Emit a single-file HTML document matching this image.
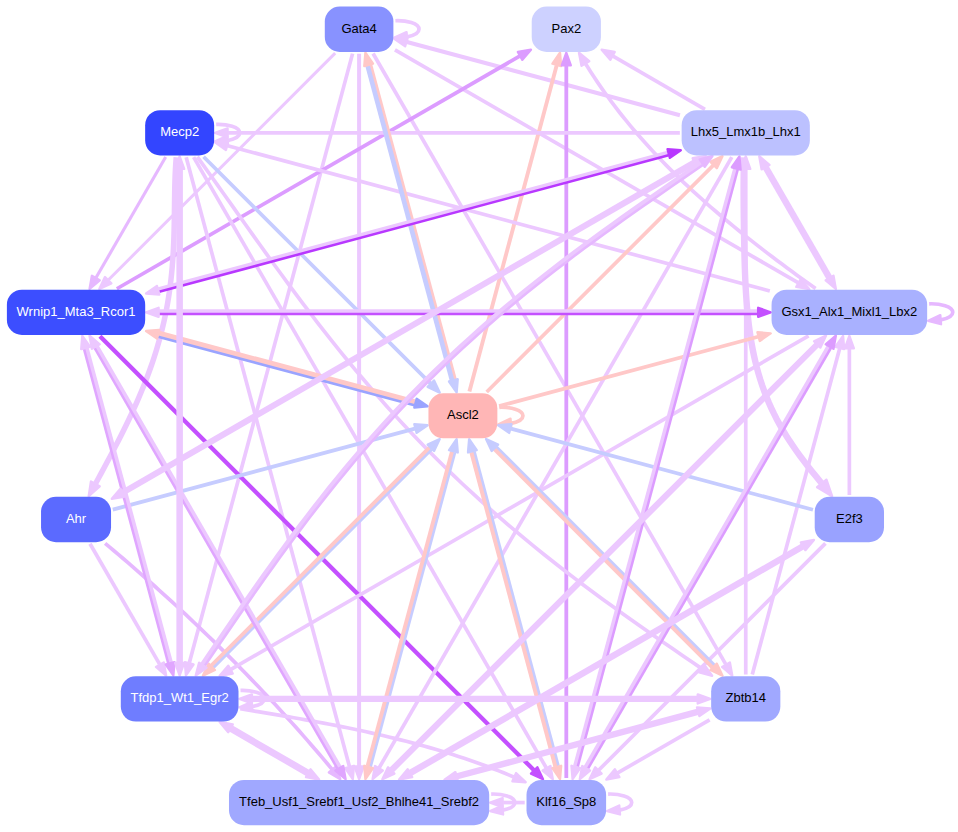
<!DOCTYPE html>
<html lang="en">
<head>
<meta charset="utf-8">
<title>Regulatory network</title>
<style>
html,body{margin:0;padding:0;background:#ffffff;}
body{width:958px;height:832px;overflow:hidden;}
svg{display:block;}
</style>
</head>
<body>
<svg width="958" height="832" viewBox="0 0 958 832" font-family="'Liberation Sans', Arial, Helvetica, sans-serif" font-size="13px">
<rect width="958" height="832" fill="#ffffff"/>
<g stroke-linecap="butt">
<g>
<path d="M395.39,20.74 C406.39,20.34 418.99,23.24 418.99,29.24 C418.99,32.94 414.39,35.44 406.99,36.84" fill="none" stroke="#ecc8ff" stroke-width="3.70"/>
<polygon points="406.53,32.15 394.39,37.67 407.27,41.12" fill="#ecc8ff" stroke="#ecc8ff" stroke-width="2.4" stroke-linejoin="round"/>
</g>
<g>
<path d="M216.15,124.35 C227.15,123.95 239.75,126.85 239.75,132.85 C239.75,136.55 235.15,139.05 227.75,140.45" fill="none" stroke="#ecc8ff" stroke-width="3.70"/>
<polygon points="227.28,135.76 215.14,141.27 228.02,144.73" fill="#ecc8ff" stroke="#ecc8ff" stroke-width="2.4" stroke-linejoin="round"/>
</g>
<g>
<path d="M929.16,303.79 C940.16,303.39 952.76,306.29 952.76,312.29 C952.76,315.99 948.16,318.49 940.76,319.89" fill="none" stroke="#e6b8ff" stroke-width="3.70"/>
<polygon points="940.30,315.21 928.16,320.72 941.03,324.18" fill="#e6b8ff" stroke="#e6b8ff" stroke-width="2.4" stroke-linejoin="round"/>
</g>
<g>
<path d="M499.35,407.30 C510.35,406.90 522.95,409.80 522.95,415.80 C522.95,419.50 518.35,422.00 510.95,423.40" fill="none" stroke="#ffc8c8" stroke-width="3.70"/>
<polygon points="510.49,418.71 498.35,424.23 511.22,427.68" fill="#ffc8c8" stroke="#ffc8c8" stroke-width="2.4" stroke-linejoin="round"/>
</g>
<g>
<path d="M240.50,690.45 C251.50,690.05 264.10,692.95 264.10,698.95 C264.10,702.65 259.50,705.15 252.10,706.55" fill="none" stroke="#ecc8ff" stroke-width="3.70"/>
<polygon points="251.63,701.87 239.49,707.38 252.37,710.84" fill="#ecc8ff" stroke="#ecc8ff" stroke-width="2.4" stroke-linejoin="round"/>
</g>
<g>
<path d="M491.19,794.06 C502.19,793.66 514.79,796.56 514.79,802.56 C514.79,806.26 510.19,808.76 502.79,810.16" fill="none" stroke="#ecc8ff" stroke-width="3.70"/>
<polygon points="502.33,805.47 490.19,810.99 503.07,814.44" fill="#ecc8ff" stroke="#ecc8ff" stroke-width="2.4" stroke-linejoin="round"/>
</g>
<g>
<path d="M608.11,794.06 C619.11,793.66 631.71,796.56 631.71,802.56 C631.71,806.26 627.11,808.76 619.71,810.16" fill="none" stroke="#ecc8ff" stroke-width="3.70"/>
<polygon points="619.24,805.47 607.10,810.99 619.98,814.44" fill="#ecc8ff" stroke="#ecc8ff" stroke-width="2.4" stroke-linejoin="round"/>
</g>
<g>
<path d="M394.95,49.94 L798.00,282.64" fill="none" stroke="#ecc8ff" stroke-width="3.70"/>
<polygon points="796.27,286.84 809.35,289.19 800.77,279.05" fill="#ecc8ff" stroke="#ecc8ff" stroke-width="2.4" stroke-linejoin="round"/>
</g>
<g>
<path d="M373.07,53.45 L725.68,664.18" fill="none" stroke="#ecc8ff" stroke-width="3.70"/>
<polygon points="722.08,666.95 732.23,675.53 729.87,662.45" fill="#ecc8ff" stroke="#ecc8ff" stroke-width="2.4" stroke-linejoin="round"/>
</g>
<g>
<path d="M359.09,53.69 L359.09,765.91" fill="none" stroke="#ecc8ff" stroke-width="4.00"/>
<polygon points="354.59,766.51 359.09,779.01 363.59,766.51" fill="#ecc8ff" stroke="#ecc8ff" stroke-width="2.4" stroke-linejoin="round"/>
</g>
<g>
<path d="M352.56,53.63 L189.34,662.78" fill="none" stroke="#ecc8ff" stroke-width="3.70"/>
<polygon points="184.84,662.20 185.95,675.44 193.53,664.53" fill="#ecc8ff" stroke="#ecc8ff" stroke-width="2.4" stroke-linejoin="round"/>
</g>
<g>
<path d="M335.17,53.16 L108.59,279.75" fill="none" stroke="#ecc8ff" stroke-width="3.00"/>
<polygon points="104.98,276.99 99.33,289.01 111.35,283.35" fill="#ecc8ff" stroke="#ecc8ff" stroke-width="2.4" stroke-linejoin="round"/>
</g>
<g>
<path d="M679.92,115.20 L406.92,42.05" fill="none" stroke="#ecc8ff" stroke-width="4.10"/>
<polygon points="407.50,37.55 394.26,38.66 405.17,46.25" fill="#ecc8ff" stroke="#ecc8ff" stroke-width="2.4" stroke-linejoin="round"/>
</g>
<g>
<path d="M116.83,288.74 L519.58,56.22" fill="none" stroke="#dc9cff" stroke-width="3.70"/>
<polygon points="522.35,59.81 530.93,49.67 517.85,52.02" fill="#dc9cff" stroke="#dc9cff" stroke-width="2.4" stroke-linejoin="round"/>
</g>
<g>
<path d="M469.40,391.51 L556.63,65.41" fill="none" stroke="#ffc8c8" stroke-width="3.90"/>
<polygon points="561.13,66.00 560.01,52.76 552.44,63.67" fill="#ffc8c8" stroke="#ffc8c8" stroke-width="2.4" stroke-linejoin="round"/>
</g>
<g>
<path d="M566.31,778.11 L566.31,65.89" fill="none" stroke="#dc9cff" stroke-width="3.80"/>
<polygon points="570.81,65.29 566.31,52.79 561.81,65.29" fill="#dc9cff" stroke="#dc9cff" stroke-width="2.4" stroke-linejoin="round"/>
</g>
<g>
<path d="M815.60,288.60 L811.40,285.61 L806.47,282.06 L801.55,278.50 L796.63,274.93 L791.72,271.34 L786.83,267.73 L781.94,264.10 L777.07,260.45 L772.21,256.78 L767.37,253.10 L762.54,249.39 L757.73,245.66 L752.93,241.91 L748.16,238.13 L743.40,234.33 L738.67,230.51 L733.95,226.66 L729.26,222.79 L724.60,218.89 L719.95,214.97 L715.34,211.02 L710.75,207.04 L706.19,203.03 L701.66,198.99 L697.15,194.93 L692.68,190.83 L688.24,186.70 L683.84,182.55 L679.46,178.35 L675.12,174.13 L670.82,169.88 L666.56,165.59 L662.33,161.26 L658.14,156.90 L654.00,152.51 L649.89,148.07 L645.82,143.61 L641.80,139.10 L637.83,134.56 L633.89,129.97 L630.01,125.35 L626.17,120.69 L622.38,115.99 L618.64,111.24 L614.95,106.46 L611.31,101.63 L607.72,96.76 L604.19,91.84 L600.71,86.88 L597.28,81.88 L593.91,76.83 L590.60,71.74 L587.35,66.59 L585.69,63.92" fill="none" stroke="#ecc8ff" stroke-width="3.70"/>
<polygon points="589.26,61.10 578.99,52.66 581.53,65.70" fill="#ecc8ff" stroke="#ecc8ff" stroke-width="2.4" stroke-linejoin="round"/>
</g>
<g>
<path d="M704.97,109.30 L613.03,56.22" fill="none" stroke="#ecc8ff" stroke-width="3.70"/>
<polygon points="614.76,52.02 601.68,49.67 610.26,59.81" fill="#ecc8ff" stroke="#ecc8ff" stroke-width="2.4" stroke-linejoin="round"/>
</g>
<g>
<path d="M203.59,156.77 L430.42,383.36" fill="none" stroke="#c6ccff" stroke-width="3.70"/>
<polygon points="427.67,386.96 439.69,392.61 434.03,380.60" fill="#c6ccff" stroke="#c6ccff" stroke-width="2.4" stroke-linejoin="round"/>
</g>
<g>
<path d="M193.62,157.05 L546.23,767.79" fill="none" stroke="#ecc8ff" stroke-width="3.70"/>
<polygon points="542.63,770.56 552.78,779.13 550.43,766.06" fill="#ecc8ff" stroke="#ecc8ff" stroke-width="2.4" stroke-linejoin="round"/>
</g>
<g>
<path d="M197.33,156.95 L203.43,165.40 L210.49,175.24 L217.54,185.11 L224.56,195.00 L231.59,204.90 L238.61,214.81 L245.63,224.71 L252.67,234.61 L259.73,244.50 L266.81,254.37 L273.92,264.21 L281.07,274.03 L288.25,283.82 L295.48,293.57 L302.75,303.28 L310.08,312.95 L317.46,322.57 L324.90,332.13 L332.40,341.64 L339.97,351.10 L347.61,360.48 L355.32,369.81 L363.11,379.06 L370.97,388.25 L378.91,397.37 L386.92,406.41 L395.02,415.37 L403.20,424.26 L411.47,433.07 L419.82,441.80 L428.25,450.44 L436.77,459.01 L445.37,467.50 L454.05,475.90 L462.82,484.22 L471.68,492.46 L480.61,500.61 L489.63,508.68 L498.72,516.68 L507.89,524.59 L517.14,532.42 L526.46,540.18 L535.86,547.86 L545.32,555.47 L554.84,563.01 L564.43,570.47 L574.07,577.87 L583.77,585.20 L593.52,592.47 L603.32,599.69 L613.16,606.84 L623.04,613.95 L632.95,621.01 L642.89,628.02 L652.85,634.99 L662.83,641.92 L672.81,648.83 L682.80,655.70 L692.79,662.56 L701.32,668.39" fill="none" stroke="#ecc8ff" stroke-width="3.70"/>
<polygon points="699.27,672.45 712.13,675.80 704.36,665.02" fill="#ecc8ff" stroke="#ecc8ff" stroke-width="2.4" stroke-linejoin="round"/>
</g>
<g>
<path d="M186.18,157.23 L349.40,766.39" fill="none" stroke="#ecc8ff" stroke-width="3.70"/>
<polygon points="345.21,768.13 352.79,779.04 353.90,765.80" fill="#ecc8ff" stroke="#ecc8ff" stroke-width="2.4" stroke-linejoin="round"/>
</g>
<g>
<path d="M165.67,157.05 L96.12,277.52" fill="none" stroke="#e6b8ff" stroke-width="3.10"/>
<polygon points="91.92,275.79 89.57,288.87 99.71,280.29" fill="#e6b8ff" stroke="#e6b8ff" stroke-width="2.4" stroke-linejoin="round"/>
</g>
<g>
<path d="M176.25,157.29 L175.80,162.99 L175.43,169.07 L175.15,175.17 L174.94,181.29 L174.78,187.41 L174.66,193.54 L174.57,199.68 L174.50,205.82 L174.42,211.97 L174.34,218.11 L174.23,224.26 L174.10,230.40 L173.92,236.54 L173.70,242.68 L173.42,248.81 L173.08,254.93 L172.68,261.03 L172.20,267.13 L171.64,273.22 L171.00,279.29 L170.28,285.34 L169.46,291.38 L168.56,297.41 L167.57,303.41 L166.48,309.40 L165.29,315.36 L164.02,321.30 L162.64,327.23 L161.18,333.13 L159.62,339.00 L157.96,344.85 L156.22,350.68 L154.39,356.49 L152.47,362.27 L150.47,368.02 L148.39,373.75 L146.23,379.46 L144.00,385.14 L141.69,390.80 L139.32,396.43 L136.88,402.04 L134.39,407.62 L131.84,413.18 L129.23,418.72 L126.58,424.24 L123.89,429.73 L121.15,435.21 L118.38,440.67 L115.58,446.10 L112.75,451.53 L109.90,456.93 L107.03,462.33 L104.14,467.71 L101.24,473.08 L98.33,478.44 L95.62,483.44" fill="none" stroke="#ecc8ff" stroke-width="5.50"/>
<polygon points="90.94,481.57 88.73,496.07 99.72,486.36" fill="#ecc8ff" stroke="#ecc8ff" stroke-width="2.4" stroke-linejoin="round"/>
</g>
<g>
<path d="M679.85,132.85 L228.15,132.85" fill="none" stroke="#ecc8ff" stroke-width="3.70"/>
<polygon points="227.55,128.35 215.05,132.85 227.55,137.35" fill="#ecc8ff" stroke="#ecc8ff" stroke-width="2.4" stroke-linejoin="round"/>
</g>
<g>
<path d="M769.82,290.98 L227.67,145.71" fill="none" stroke="#ecc8ff" stroke-width="3.70"/>
<polygon points="228.25,141.21 215.01,142.32 225.92,149.90" fill="#ecc8ff" stroke="#ecc8ff" stroke-width="2.4" stroke-linejoin="round"/>
</g>
<g>
<path d="M99.96,336.22 L533.76,770.01" fill="none" stroke="#c450ff" stroke-width="4.30"/>
<polygon points="531.00,773.62 543.02,779.27 537.36,767.25" fill="#c450ff" stroke="#c450ff" stroke-width="2.4" stroke-linejoin="round"/>
</g>
<g>
<path d="M112.78,509.66 L414.93,428.66" fill="none" stroke="#c6ccff" stroke-width="3.80"/>
<polygon points="416.67,432.85 427.58,425.27 414.34,424.16" fill="#c6ccff" stroke="#c6ccff" stroke-width="2.4" stroke-linejoin="round"/>
</g>
<g>
<path d="M90.02,543.71 L159.57,664.18" fill="none" stroke="#ecc8ff" stroke-width="3.70"/>
<polygon points="155.97,666.95 166.12,675.53 163.77,662.45" fill="#ecc8ff" stroke="#ecc8ff" stroke-width="2.4" stroke-linejoin="round"/>
</g>
<g>
<path d="M105.12,543.31 L109.34,546.84 L113.94,550.71 L118.53,554.60 L123.10,558.51 L127.67,562.42 L132.22,566.36 L136.76,570.31 L141.29,574.27 L145.81,578.25 L150.31,582.24 L154.80,586.25 L159.28,590.27 L163.74,594.31 L168.20,598.36 L172.64,602.42 L177.06,606.50 L181.47,610.60 L185.87,614.71 L190.26,618.83 L194.63,622.97 L198.99,627.12 L203.34,631.29 L207.67,635.47 L211.99,639.67 L216.29,643.88 L220.58,648.11 L224.86,652.35 L229.12,656.60 L233.36,660.87 L237.60,665.15 L241.81,669.45 L246.01,673.76 L250.20,678.09 L254.37,682.43 L258.53,686.78 L262.67,691.15 L266.80,695.53 L270.91,699.93 L275.01,704.34 L279.09,708.76 L283.15,713.20 L287.20,717.65 L291.23,722.12 L295.25,726.60 L299.25,731.10 L303.23,735.61 L307.20,740.13 L311.15,744.67 L315.08,749.22 L319.00,753.79 L322.90,758.37 L326.78,762.96 L330.65,767.57 L331.95,769.12" fill="none" stroke="#e6b8ff" stroke-width="3.70"/>
<polygon points="328.86,772.45 340.30,779.22 335.80,766.72" fill="#e6b8ff" stroke="#e6b8ff" stroke-width="2.4" stroke-linejoin="round"/>
</g>
<g>
<path d="M240.27,708.78 L245.98,709.70 L251.95,710.67 L257.92,711.65 L263.90,712.64 L269.87,713.63 L275.84,714.63 L281.82,715.65 L287.79,716.67 L293.76,717.71 L299.74,718.76 L305.70,719.83 L311.67,720.91 L317.63,722.01 L323.59,723.13 L329.55,724.27 L335.50,725.43 L341.45,726.61 L347.39,727.81 L353.32,729.03 L359.25,730.29 L365.17,731.56 L371.08,732.87 L376.98,734.20 L382.88,735.56 L388.76,736.95 L394.64,738.38 L400.51,739.83 L406.36,741.32 L412.20,742.84 L418.03,744.40 L423.85,746.00 L429.65,747.63 L435.44,749.31 L441.22,751.02 L446.98,752.78 L452.73,754.57 L458.46,756.42 L464.18,758.30 L469.87,760.23 L475.55,762.21 L481.22,764.23 L486.86,766.31 L492.49,768.43 L498.09,770.61 L503.68,772.84 L509.24,775.12 L513.68,776.98" fill="none" stroke="#ecc8ff" stroke-width="3.70"/>
<polygon points="512.43,781.35 525.68,782.24 516.04,773.11" fill="#ecc8ff" stroke="#ecc8ff" stroke-width="2.4" stroke-linejoin="round"/>
</g>
<g>
<path d="M808.57,335.84 L231.00,669.30" fill="none" stroke="#ecc8ff" stroke-width="3.70"/>
<polygon points="228.23,665.71 219.66,675.85 232.73,673.50" fill="#ecc8ff" stroke="#ecc8ff" stroke-width="2.4" stroke-linejoin="round"/>
</g>
<g>
<path d="M731.78,157.05 L379.17,767.79" fill="none" stroke="#ecc8ff" stroke-width="3.70"/>
<polygon points="374.97,766.06 372.62,779.13 382.77,770.56" fill="#ecc8ff" stroke="#ecc8ff" stroke-width="2.4" stroke-linejoin="round"/>
</g>
<g>
<path d="M524.71,802.56 L503.19,802.56" fill="none" stroke="#ecc8ff" stroke-width="3.70"/>
<polygon points="502.59,798.06 490.09,802.56 502.59,807.06" fill="#ecc8ff" stroke="#ecc8ff" stroke-width="2.4" stroke-linejoin="round"/>
</g>
<g>
<path d="M825.44,543.43 L598.85,770.01" fill="none" stroke="#ecc8ff" stroke-width="3.70"/>
<polygon points="595.25,767.25 589.59,779.27 601.61,773.62" fill="#ecc8ff" stroke="#ecc8ff" stroke-width="2.4" stroke-linejoin="round"/>
</g>
<g>
<path d="M709.60,719.83 L617.66,772.91" fill="none" stroke="#ecc8ff" stroke-width="3.70"/>
<polygon points="614.89,769.31 606.32,779.46 619.39,777.11" fill="#ecc8ff" stroke="#ecc8ff" stroke-width="2.4" stroke-linejoin="round"/>
</g>
<g>
<path d="M745.75,674.50 L745.75,169.50" fill="none" stroke="#ecc8ff" stroke-width="3.70"/>
<polygon points="750.25,168.90 745.75,156.40 741.25,168.90" fill="#ecc8ff" stroke="#ecc8ff" stroke-width="2.4" stroke-linejoin="round"/>
</g>
<g>
<path d="M752.29,674.57 L839.67,348.47" fill="none" stroke="#ecc8ff" stroke-width="3.70"/>
<polygon points="844.17,349.05 843.06,335.81 835.48,346.72" fill="#ecc8ff" stroke="#ecc8ff" stroke-width="2.4" stroke-linejoin="round"/>
</g>
<g>
<path d="M849.36,495.06 L849.36,348.94" fill="none" stroke="#ecc8ff" stroke-width="3.70"/>
<polygon points="853.86,348.34 849.36,335.84 844.86,348.34" fill="#ecc8ff" stroke="#ecc8ff" stroke-width="2.4" stroke-linejoin="round"/>
</g>
<g>
<path d="M812.97,509.74 L510.87,428.67" fill="none" stroke="#c6ccff" stroke-width="3.80"/>
<polygon points="511.46,424.17 498.22,425.28 509.13,432.86" fill="#c6ccff" stroke="#c6ccff" stroke-width="2.4" stroke-linejoin="round"/>
</g>
<g>
<path d="M744.11,157.29 L743.92,163.10 L743.77,169.28 L743.68,175.45 L743.63,181.60 L743.61,187.76 L743.62,193.91 L743.65,200.07 L743.69,206.24 L743.75,212.41 L743.82,218.59 L743.90,224.79 L743.99,231.00 L744.09,237.22 L744.20,243.45 L744.33,249.70 L744.48,255.95 L744.65,262.22 L744.85,268.49 L745.08,274.76 L745.34,281.04 L745.66,287.32 L746.02,293.60 L746.44,299.87 L746.92,306.13 L747.48,312.38 L748.11,318.61 L748.83,324.83 L749.64,331.02 L750.55,337.19 L751.57,343.33 L752.69,349.44 L753.94,355.51 L755.31,361.54 L756.81,367.54 L758.45,373.48 L760.22,379.38 L762.14,385.23 L764.20,391.03 L766.41,396.77 L768.77,402.45 L771.28,408.08 L773.94,413.65 L776.75,419.16 L779.70,424.61 L782.80,430.00 L786.03,435.33 L789.39,440.61 L792.88,445.83 L796.48,450.99 L800.18,456.10 L803.97,461.17 L807.84,466.19 L811.78,471.17 L815.76,476.11 L819.77,481.03 L821.38,482.99" fill="none" stroke="#ecc8ff" stroke-width="6.40"/>
<polygon points="817.09,487.26 832.10,496.16 826.42,479.66" fill="#ecc8ff" stroke="#ecc8ff" stroke-width="2.4" stroke-linejoin="round"/>
</g>
<g>
<path d="M486.71,391.98 L713.22,165.40" fill="none" stroke="#ffc8c8" stroke-width="3.70"/>
<polygon points="716.82,168.15 722.48,156.13 710.46,161.79" fill="#ffc8c8" stroke="#ffc8c8" stroke-width="2.4" stroke-linejoin="round"/>
</g>
<g>
<path d="M499.09,406.11 L758.04,336.75" fill="none" stroke="#ffc8c8" stroke-width="3.70"/>
<polygon points="759.78,340.95 770.69,333.36 757.45,332.25" fill="#ffc8c8" stroke="#ffc8c8" stroke-width="2.4" stroke-linejoin="round"/>
</g>
<g>
<path d="M454.43,379.40 L370.03,65.08" fill="none" stroke="#ffc8c8" stroke-width="4.70"/>
<path d="M451.99,380.06 L367.59,65.74" fill="none" stroke="#c6ccff" stroke-width="4.70"/>
<polygon points="373.00,63.66 365.41,52.76 364.31,66.00" fill="#ffc8c8" stroke="#ffc8c8" stroke-width="2.4" stroke-linejoin="round"/>
<polygon points="449.02,381.48 456.61,392.38 457.72,379.14" fill="#c6ccff" stroke="#c6ccff" stroke-width="2.4" stroke-linejoin="round"/>
</g>
<g>
<path d="M414.60,404.19 L158.39,335.64" fill="none" stroke="#9aa4ff" stroke-width="4.80"/>
<path d="M415.25,401.74 L159.04,333.19" fill="none" stroke="#ffc8c8" stroke-width="4.80"/>
<polygon points="159.30,329.91 146.06,331.03 156.97,338.61" fill="#ffc8c8" stroke="#ffc8c8" stroke-width="2.4" stroke-linejoin="round"/>
<polygon points="414.34,407.47 427.58,406.35 416.67,398.77" fill="#9aa4ff" stroke="#9aa4ff" stroke-width="2.4" stroke-linejoin="round"/>
</g>
<g>
<path d="M431.33,449.14 L213.10,667.30" fill="none" stroke="#c6ccff" stroke-width="3.80"/>
<path d="M429.55,447.35 L211.31,665.51" fill="none" stroke="#ffc8c8" stroke-width="3.80"/>
<polygon points="208.60,663.65 202.94,675.67 214.96,670.01" fill="#ffc8c8" stroke="#ffc8c8" stroke-width="2.4" stroke-linejoin="round"/>
<polygon points="434.05,451.01 439.71,438.99 427.68,444.64" fill="#c6ccff" stroke="#c6ccff" stroke-width="2.4" stroke-linejoin="round"/>
</g>
<g>
<path d="M454.44,452.20 L370.02,766.72" fill="none" stroke="#c6ccff" stroke-width="3.90"/>
<path d="M452.00,451.54 L367.58,766.06" fill="none" stroke="#ffc8c8" stroke-width="3.90"/>
<polygon points="364.30,765.80 365.41,779.04 372.99,768.13" fill="#ffc8c8" stroke="#ffc8c8" stroke-width="2.4" stroke-linejoin="round"/>
<polygon points="457.72,452.46 456.61,439.22 449.03,450.13" fill="#c6ccff" stroke="#c6ccff" stroke-width="2.4" stroke-linejoin="round"/>
</g>
<g>
<path d="M473.77,451.55 L557.85,766.06" fill="none" stroke="#c6ccff" stroke-width="4.00"/>
<path d="M471.32,452.20 L555.41,766.71" fill="none" stroke="#ffc8c8" stroke-width="4.00"/>
<polygon points="552.44,768.13 560.02,779.04 561.14,765.80" fill="#ffc8c8" stroke="#ffc8c8" stroke-width="2.4" stroke-linejoin="round"/>
<polygon points="476.74,450.13 469.16,439.22 468.04,452.46" fill="#c6ccff" stroke="#c6ccff" stroke-width="2.4" stroke-linejoin="round"/>
</g>
<g>
<path d="M496.21,447.36 L714.13,665.51" fill="none" stroke="#c6ccff" stroke-width="4.00"/>
<path d="M494.43,449.15 L712.34,667.29" fill="none" stroke="#ffc8c8" stroke-width="4.00"/>
<polygon points="710.47,670.00 722.49,675.67 716.84,663.64" fill="#ffc8c8" stroke="#ffc8c8" stroke-width="2.4" stroke-linejoin="round"/>
<polygon points="498.08,444.65 486.06,438.99 491.71,451.01" fill="#c6ccff" stroke="#c6ccff" stroke-width="2.4" stroke-linejoin="round"/>
</g>
<g>
<path d="M159.04,291.36 L668.46,154.87" fill="none" stroke="#b838ff" stroke-width="3.40"/>
<path d="M158.39,288.92 L667.80,152.42" fill="none" stroke="#ecc8ff" stroke-width="3.40"/>
<polygon points="669.88,157.84 680.79,150.25 667.55,149.14" fill="#b838ff" stroke="#b838ff" stroke-width="2.4" stroke-linejoin="round"/>
<polygon points="156.97,285.95 146.06,293.53 159.30,294.64" fill="#ecc8ff" stroke="#ecc8ff" stroke-width="2.4" stroke-linejoin="round"/>
</g>
<g>
<path d="M159.19,313.56 L757.56,313.56" fill="none" stroke="#c450ff" stroke-width="3.40"/>
<path d="M159.19,311.03 L757.56,311.03" fill="none" stroke="#ecc8ff" stroke-width="3.40"/>
<polygon points="758.16,316.79 770.66,312.29 758.16,307.79" fill="#c450ff" stroke="#c450ff" stroke-width="2.4" stroke-linejoin="round"/>
<polygon points="158.59,307.79 146.09,312.29 158.59,316.79" fill="#ecc8ff" stroke="#ecc8ff" stroke-width="2.4" stroke-linejoin="round"/>
</g>
<g>
<path d="M84.51,348.79 L168.73,663.11" fill="none" stroke="#e0a6ff" stroke-width="3.60"/>
<path d="M86.95,348.14 L171.17,662.45" fill="none" stroke="#ecc8ff" stroke-width="3.60"/>
<polygon points="165.76,664.53 173.34,675.44 174.45,662.20" fill="#e0a6ff" stroke="#e0a6ff" stroke-width="2.4" stroke-linejoin="round"/>
<polygon points="89.92,346.72 82.34,335.81 81.23,349.05" fill="#ecc8ff" stroke="#ecc8ff" stroke-width="2.4" stroke-linejoin="round"/>
</g>
<g>
<path d="M95.02,347.70 L337.92,768.42" fill="none" stroke="#e0a6ff" stroke-width="3.60"/>
<path d="M97.21,346.44 L340.11,767.15" fill="none" stroke="#ecc8ff" stroke-width="3.60"/>
<polygon points="335.42,770.56 345.57,779.13 343.21,766.06" fill="#e0a6ff" stroke="#e0a6ff" stroke-width="2.4" stroke-linejoin="round"/>
<polygon points="99.71,344.30 89.57,335.72 91.92,348.80" fill="#ecc8ff" stroke="#ecc8ff" stroke-width="2.4" stroke-linejoin="round"/>
</g>
<g>
<path d="M178.38,169.50 L178.38,662.30" fill="none" stroke="#ecc8ff" stroke-width="4.00"/>
<path d="M180.91,169.50 L180.91,662.30" fill="none" stroke="#ecc8ff" stroke-width="4.00"/>
<polygon points="175.15,662.90 179.65,675.40 184.15,662.90" fill="#ecc8ff" stroke="#ecc8ff" stroke-width="2.4" stroke-linejoin="round"/>
<polygon points="184.15,168.90 179.65,156.40 175.15,168.90" fill="#ecc8ff" stroke="#ecc8ff" stroke-width="2.4" stroke-linejoin="round"/>
</g>
<g>
<path d="M693.77,161.40 L122.53,491.20" fill="none" stroke="#ecc8ff" stroke-width="3.60"/>
<path d="M695.03,163.59 L123.80,493.39" fill="none" stroke="#ecc8ff" stroke-width="3.60"/>
<polygon points="120.39,488.70 111.82,498.85 124.89,496.50" fill="#ecc8ff" stroke="#ecc8ff" stroke-width="2.4" stroke-linejoin="round"/>
<polygon points="697.17,166.09 705.74,155.95 692.67,158.30" fill="#ecc8ff" stroke="#ecc8ff" stroke-width="2.4" stroke-linejoin="round"/>
</g>
<g>
<path d="M702.44,164.48 L693.42,170.69 L683.41,177.58 L673.41,184.47 L663.41,191.38 L653.43,198.31 L643.46,205.26 L633.50,212.24 L623.58,219.26 L613.69,226.32 L603.83,233.43 L594.01,240.58 L584.23,247.78 L574.50,255.04 L564.83,262.36 L555.21,269.75 L545.64,277.20 L536.14,284.72 L526.70,292.31 L517.33,299.97 L508.03,307.71 L498.81,315.52 L489.65,323.42 L480.57,331.40 L471.57,339.46 L462.65,347.60 L453.81,355.83 L445.05,364.14 L436.37,372.53 L427.78,381.02 L419.26,389.58 L410.84,398.23 L402.49,406.97 L394.23,415.79 L386.05,424.69 L377.96,433.67 L369.95,442.73 L362.01,451.87 L354.16,461.09 L346.39,470.38 L338.69,479.74 L331.07,489.17 L323.52,498.67 L316.04,508.24 L308.63,517.86 L301.29,527.54 L294.01,537.27 L286.78,547.05 L279.62,556.88 L272.51,566.75 L265.45,576.65 L258.43,586.59 L251.46,596.55 L244.52,606.54 L237.61,616.54 L230.74,626.55 L223.89,636.56 L217.05,646.57 L210.23,656.58 L204.17,665.46" fill="none" stroke="#e6b8ff" stroke-width="3.90"/>
<path d="M701.00,162.40 L691.98,168.61 L681.98,175.50 L671.98,182.39 L661.98,189.30 L651.98,196.23 L642.01,203.19 L632.05,210.18 L622.12,217.20 L612.21,224.27 L602.34,231.38 L592.51,238.54 L582.73,245.75 L572.99,253.02 L563.30,260.35 L553.66,267.75 L544.08,275.21 L534.57,282.74 L525.11,290.34 L515.73,298.02 L506.41,305.77 L497.16,313.60 L487.99,321.51 L478.89,329.51 L469.88,337.58 L460.94,345.74 L452.08,353.98 L443.30,362.31 L434.60,370.73 L425.99,379.23 L417.46,387.81 L409.02,396.48 L400.66,405.23 L392.38,414.07 L384.18,422.99 L376.07,431.99 L368.05,441.07 L360.10,450.22 L352.23,459.46 L344.44,468.77 L336.73,478.15 L329.10,487.59 L321.54,497.11 L314.04,506.69 L306.62,516.32 L299.27,526.02 L291.98,535.76 L284.75,545.56 L277.57,555.40 L270.45,565.27 L263.38,575.19 L256.36,585.13 L249.38,595.11 L242.44,605.10 L235.53,615.10 L228.65,625.12 L221.80,635.13 L214.96,645.15 L208.14,655.15 L202.09,664.03" fill="none" stroke="#ecc8ff" stroke-width="3.90"/>
<polygon points="199.08,662.70 195.74,675.56 206.51,667.78" fill="#ecc8ff" stroke="#ecc8ff" stroke-width="2.4" stroke-linejoin="round"/>
<polygon points="704.77,166.81 712.50,156.01 699.66,159.40" fill="#e6b8ff" stroke="#e6b8ff" stroke-width="2.4" stroke-linejoin="round"/>
</g>
<g>
<path d="M764.74,168.25 L828.19,278.15" fill="none" stroke="#ecc8ff" stroke-width="4.00"/>
<path d="M766.93,166.99 L830.38,276.89" fill="none" stroke="#ecc8ff" stroke-width="4.00"/>
<polygon points="825.69,280.29 835.83,288.87 833.48,275.79" fill="#ecc8ff" stroke="#ecc8ff" stroke-width="2.4" stroke-linejoin="round"/>
<polygon points="769.43,164.85 759.28,156.27 761.63,169.35" fill="#ecc8ff" stroke="#ecc8ff" stroke-width="2.4" stroke-linejoin="round"/>
</g>
<g>
<path d="M577.22,766.71 L737.28,169.35" fill="none" stroke="#dc9cff" stroke-width="3.50"/>
<path d="M574.78,766.06 L734.84,168.69" fill="none" stroke="#ecc8ff" stroke-width="3.50"/>
<polygon points="740.56,169.60 739.45,156.36 731.87,167.27" fill="#dc9cff" stroke="#dc9cff" stroke-width="2.4" stroke-linejoin="round"/>
<polygon points="571.50,765.80 572.61,779.04 580.19,768.13" fill="#ecc8ff" stroke="#ecc8ff" stroke-width="2.4" stroke-linejoin="round"/>
</g>
<g>
<path d="M587.48,768.42 L830.38,347.70" fill="none" stroke="#dc9cff" stroke-width="3.70"/>
<path d="M585.29,767.15 L828.19,346.44" fill="none" stroke="#ecc8ff" stroke-width="3.70"/>
<polygon points="833.48,348.80 835.83,335.72 825.69,344.30" fill="#dc9cff" stroke="#dc9cff" stroke-width="2.4" stroke-linejoin="round"/>
<polygon points="582.19,766.06 579.83,779.13 589.98,770.56" fill="#ecc8ff" stroke="#ecc8ff" stroke-width="2.4" stroke-linejoin="round"/>
</g>
<g>
<path d="M392.54,770.90 L817.70,345.74" fill="none" stroke="#ecc8ff" stroke-width="3.70"/>
<path d="M390.75,769.12 L815.92,343.95" fill="none" stroke="#ecc8ff" stroke-width="3.70"/>
<polygon points="820.42,347.60 826.07,335.58 814.05,341.24" fill="#ecc8ff" stroke="#ecc8ff" stroke-width="2.4" stroke-linejoin="round"/>
<polygon points="388.04,767.25 382.38,779.27 394.40,773.62" fill="#ecc8ff" stroke="#ecc8ff" stroke-width="2.4" stroke-linejoin="round"/>
</g>
<g>
<path d="M411.08,774.00 L803.22,547.61" fill="none" stroke="#ecc8ff" stroke-width="4.00"/>
<path d="M409.82,771.82 L801.95,545.42" fill="none" stroke="#ecc8ff" stroke-width="4.00"/>
<polygon points="805.36,550.11 813.93,539.96 800.86,542.31" fill="#ecc8ff" stroke="#ecc8ff" stroke-width="2.4" stroke-linejoin="round"/>
<polygon points="407.68,769.31 399.11,779.46 412.18,777.11" fill="#ecc8ff" stroke="#ecc8ff" stroke-width="2.4" stroke-linejoin="round"/>
</g>
<g>
<path d="M457.48,777.51 L697.96,713.07" fill="none" stroke="#ecc8ff" stroke-width="3.80"/>
<path d="M456.82,775.07 L697.30,710.63" fill="none" stroke="#ecc8ff" stroke-width="3.80"/>
<polygon points="699.38,716.04 710.29,708.46 697.05,707.35" fill="#ecc8ff" stroke="#ecc8ff" stroke-width="2.4" stroke-linejoin="round"/>
<polygon points="455.40,772.10 444.50,779.68 457.73,780.79" fill="#ecc8ff" stroke="#ecc8ff" stroke-width="2.4" stroke-linejoin="round"/>
</g>
<g>
<path d="M308.37,771.82 L231.63,727.51" fill="none" stroke="#ecc8ff" stroke-width="4.40"/>
<path d="M307.11,774.00 L230.37,729.70" fill="none" stroke="#ecc8ff" stroke-width="4.40"/>
<polygon points="232.73,724.41 219.66,722.05 228.23,732.20" fill="#ecc8ff" stroke="#ecc8ff" stroke-width="2.4" stroke-linejoin="round"/>
<polygon points="306.01,777.11 319.08,779.46 310.51,769.31" fill="#ecc8ff" stroke="#ecc8ff" stroke-width="2.4" stroke-linejoin="round"/>
</g>
<g>
<path d="M252.50,700.22 L697.15,700.22" fill="none" stroke="#ecc8ff" stroke-width="3.80"/>
<path d="M252.50,697.69 L697.15,697.69" fill="none" stroke="#ecc8ff" stroke-width="3.80"/>
<polygon points="697.75,703.45 710.25,698.95 697.75,694.45" fill="#ecc8ff" stroke="#ecc8ff" stroke-width="2.4" stroke-linejoin="round"/>
<polygon points="251.90,694.45 239.40,698.95 251.90,703.45" fill="#ecc8ff" stroke="#ecc8ff" stroke-width="2.4" stroke-linejoin="round"/>
</g>
</g>
<g><rect x="771.56" y="289.64" width="155.60" height="45.30" rx="15.0" ry="15.0" fill="#a9b1ff"/><text x="849.36" y="316.00" text-anchor="middle" fill="#000">Gsx1_Alx1_Mixl1_Lbx2</text></g>
<g><rect x="681.65" y="110.20" width="128.20" height="45.30" rx="15.0" ry="15.0" fill="#bcc1ff"/><text x="745.75" y="136.00" text-anchor="middle" fill="#000">Lhx5_Lmx1b_Lhx1</text></g>
<g><rect x="531.71" y="6.59" width="69.20" height="45.30" rx="15.0" ry="15.0" fill="#cdd1ff"/><text x="566.31" y="33.00" text-anchor="middle" fill="#000">Pax2</text></g>
<g><rect x="324.79" y="6.59" width="68.60" height="45.30" rx="15.0" ry="15.0" fill="#8892ff"/><text x="359.09" y="33.00" text-anchor="middle" fill="#000">Gata4</text></g>
<g><rect x="145.15" y="110.20" width="69.00" height="45.30" rx="15.0" ry="15.0" fill="#3345ff"/><text x="179.65" y="136.00" text-anchor="middle" fill="#fff">Mecp2</text></g>
<g><rect x="6.89" y="289.64" width="138.30" height="45.30" rx="15.0" ry="15.0" fill="#3c4eff"/><text x="76.04" y="316.00" text-anchor="middle" fill="#fff">Wrnip1_Mta3_Rcor1</text></g>
<g><rect x="41.04" y="496.86" width="70.00" height="45.30" rx="15.0" ry="15.0" fill="#5b6aff"/><text x="76.04" y="523.00" text-anchor="middle" fill="#fff">Ahr</text></g>
<g><rect x="120.80" y="676.30" width="117.70" height="45.30" rx="15.0" ry="15.0" fill="#6f7dff"/><text x="179.65" y="702.00" text-anchor="middle" fill="#fff">Tfdp1_Wt1_Egr2</text></g>
<g><rect x="228.99" y="779.91" width="260.20" height="45.30" rx="15.0" ry="15.0" fill="#a0a8ff"/><text x="359.09" y="806.00" text-anchor="middle" fill="#000">Tfeb_Usf1_Srebf1_Usf2_Bhlhe41_Srebf2</text></g>
<g><rect x="526.51" y="779.91" width="79.60" height="45.30" rx="15.0" ry="15.0" fill="#a0a8ff"/><text x="566.31" y="806.00" text-anchor="middle" fill="#000">Klf16_Sp8</text></g>
<g><rect x="711.15" y="676.30" width="69.20" height="45.30" rx="15.0" ry="15.0" fill="#a0a8ff"/><text x="745.75" y="702.00" text-anchor="middle" fill="#000">Zbtb14</text></g>
<g><rect x="814.71" y="496.86" width="69.30" height="45.30" rx="15.0" ry="15.0" fill="#99a2ff"/><text x="849.36" y="523.00" text-anchor="middle" fill="#000">E2f3</text></g>
<g><rect x="428.45" y="393.25" width="68.90" height="45.10" rx="15.0" ry="15.0" fill="#ffb6b6"/><text x="462.90" y="419.00" text-anchor="middle" fill="#000">Ascl2</text></g>
</svg>
</body>
</html>
